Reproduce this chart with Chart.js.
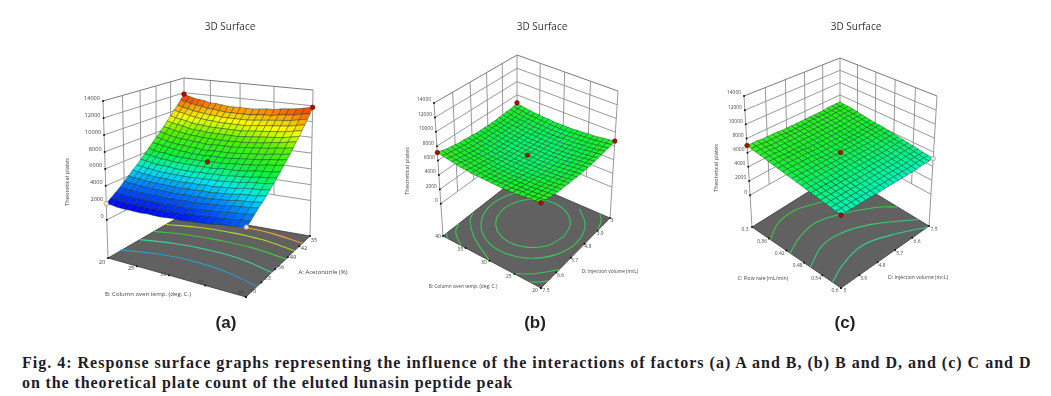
<!DOCTYPE html>
<html>
<head>
<meta charset="utf-8">
<script src="https://cdn.jsdelivr.net/npm/chart.js@4"></script>
<style>
html,body{margin:0;padding:0;background:#fff;width:1051px;height:396px;overflow:hidden}
canvas{position:absolute;top:0}
.cap{position:absolute;left:22px;white-space:nowrap;font:bold 16px "Liberation Serif",serif;color:#1c1c2c;line-height:20px}
</style>
</head>
<body>
<canvas id="pa" width="340" height="340" style="left:60px"></canvas>
<canvas id="pb" width="284" height="340" style="left:400px"></canvas>
<canvas id="pc" width="302" height="340" style="left:705px"></canvas>
<div class="cap" style="top:352.5px;letter-spacing:1px">Fig. 4: Response surface graphs representing the influence of the interactions of factors (a) A and B, (b) B and D, and (c) C and D</div>
<div class="cap" style="top:373px;letter-spacing:.9px">on the theoretical plate count of the eluted lunasin peptide peak</div>
<script>
// ---------- values ----------
const zTicks = [0,2000,4000,6000,8000,10000,12000,14000];
const acetonitrileTicks = [35,42,49,56,63,70];
const columnTempTicks = [20,25,30,35,40];
const columnTempTicksReversed = [40,35,30,25,20];
const injectionTicks = [3,3.9,4.8,5.7,6.6,7.5];
const injectionTicksReversed = [7.5,6.6,5.7,4.8,3.9,3];
const flowTicks = [0.3,0.36,0.42,0.48,0.54,0.6];

// response surfaces, theoretical plates in hundreds; rows run along the second factor
const surfaceA = [
[118,116,114,113,112,110,110,109,108,108,108,108,108,109,110,110,112,113,114,116,118],
[112,110,108,107,106,104,104,103,102,102,102,102,102,103,104,104,106,107,108,110,112],
[106,104,103,101,100,99,98,98,97,97,97,97,97,98,99,100,101,102,103,105,107],
[101,99,98,96,95,94,93,93,92,92,92,92,92,93,94,95,96,97,98,100,102],
[95,93,92,91,89,88,88,87,87,87,87,87,87,88,89,90,91,92,93,95,97],
[90,88,87,86,84,83,83,82,82,82,82,82,82,83,84,85,86,87,88,90,92],
[84,83,81,80,79,78,78,77,77,77,77,77,78,78,79,80,81,83,84,86,88],
[79,78,76,75,74,74,73,73,72,72,73,73,73,74,75,76,77,78,80,81,83],
[74,73,71,70,69,69,68,68,67,67,68,68,68,69,70,71,72,73,75,76,78],
[69,68,67,66,65,64,64,63,63,63,64,64,64,65,66,67,68,69,71,72,74],
[64,62,61,61,60,59,59,59,59,59,59,60,60,61,62,63,64,65,67,68,70],
[59,58,57,56,56,55,55,55,55,55,55,55,56,57,57,58,59,61,62,63,65],
[54,53,52,51,51,51,50,50,50,50,51,51,52,52,53,54,55,56,58,59,61],
[49,48,47,47,46,46,46,46,46,46,47,47,48,48,49,50,51,53,54,55,57],
[45,44,43,43,42,42,42,42,42,42,43,43,44,44,45,46,47,49,50,51,53],
[40,39,39,38,38,38,38,38,38,38,39,39,40,40,41,42,43,45,46,47,49],
[36,35,35,34,34,34,34,34,34,34,35,35,36,36,37,38,39,41,42,43,45],
[31,31,30,30,30,30,30,30,30,31,31,32,32,33,34,35,36,38,39,40,42],
[27,27,26,26,26,26,26,26,26,27,27,28,28,29,30,31,32,34,35,36,38],
[23,23,22,22,22,22,22,22,23,23,24,24,25,26,27,28,29,30,31,33,34],
[19,19,18,18,18,18,18,19,19,19,20,21,21,22,23,24,25,27,28,29,31]
];
const surfaceB = [
[67,66,65,64,63,63,62,62,61,61,61,61,61,62,62,63,63,64,65,66,67],
[66,65,64,63,62,62,61,61,60,60,60,60,60,61,61,62,62,63,64,65,66],
[65,64,63,62,61,61,60,60,59,59,59,59,59,60,60,61,61,62,63,64,65],
[65,63,62,61,61,60,59,59,59,58,58,58,59,59,59,60,61,61,62,63,65],
[64,63,62,61,60,59,59,58,58,58,58,58,58,58,59,59,60,61,62,63,64],
[64,62,61,60,60,59,58,58,58,57,57,57,58,58,58,59,60,60,61,62,64],
[63,62,61,60,59,58,58,57,57,57,57,57,57,57,58,58,59,60,61,62,63],
[63,62,61,60,59,58,58,57,57,57,57,57,57,57,58,58,59,60,61,62,63],
[63,62,61,60,59,58,58,57,57,57,57,57,57,57,58,58,59,60,61,62,63],
[63,62,61,60,59,58,58,57,57,57,57,57,57,57,58,58,59,60,61,62,63],
[63,62,61,60,59,58,58,57,57,57,57,57,57,57,58,58,59,60,61,62,63],
[63,62,61,60,59,58,58,57,57,57,57,57,57,57,58,58,59,60,61,62,63],
[64,62,61,60,60,59,58,58,58,57,57,57,58,58,58,59,60,60,61,62,64],
[64,63,62,61,60,59,59,58,58,58,58,58,58,58,59,59,60,61,62,63,64],
[65,63,62,61,61,60,59,59,59,58,58,58,59,59,59,60,61,61,62,63,65],
[65,64,63,62,61,61,60,60,59,59,59,59,59,60,60,61,61,62,63,64,65],
[66,65,64,63,62,62,61,61,60,60,60,60,60,61,61,62,62,63,64,65,66],
[67,66,65,64,63,63,62,62,61,61,61,61,61,62,62,63,63,64,65,66,67],
[68,67,66,65,64,64,63,63,62,62,62,62,62,63,63,64,64,65,66,67,68],
[70,68,67,66,66,65,64,64,64,63,63,63,64,64,64,65,66,66,67,68,70],
[71,70,69,68,67,66,66,65,65,65,65,65,65,65,66,66,67,68,69,70,71]
];
const surfaceC = [
[69,68,68,67,66,65,64,63,62,62,61,60,59,58,57,56,55,54,53,52,51],
[69,68,68,67,66,65,64,63,62,62,61,60,59,58,57,56,55,54,53,52,51],
[69,68,68,67,66,65,64,63,62,62,61,60,59,58,57,56,55,54,53,52,51],
[69,68,68,67,66,65,64,63,62,62,61,60,59,58,57,56,55,54,53,52,51],
[68,68,67,66,65,64,63,62,61,61,60,59,58,57,56,55,54,53,52,51,50],
[68,68,67,66,65,64,63,62,61,61,60,59,58,57,56,55,54,53,52,51,50],
[68,68,67,66,65,64,63,62,61,61,60,59,58,57,56,55,54,53,52,51,50],
[68,68,67,66,65,64,63,62,61,61,60,59,58,57,56,55,54,53,52,51,50],
[68,68,67,66,65,64,63,62,61,61,60,59,58,57,56,55,54,53,52,51,50],
[68,67,67,66,65,64,63,62,61,60,60,59,58,57,56,55,54,53,52,51,50],
[68,67,67,66,65,64,63,62,61,60,60,59,58,57,56,55,54,53,52,51,50],
[68,67,67,66,65,64,63,62,61,60,60,59,58,57,56,55,54,53,52,51,50],
[68,67,67,66,65,64,63,62,61,60,60,59,58,57,56,55,54,53,52,51,50],
[68,67,67,66,65,64,63,62,61,60,60,59,58,57,56,55,54,53,52,51,50],
[69,68,67,66,65,64,64,63,62,61,60,59,58,57,56,55,54,53,52,51,50],
[69,68,67,66,65,64,64,63,62,61,60,59,58,57,56,55,54,53,52,51,50],
[69,68,67,66,65,64,64,63,62,61,60,59,58,57,56,55,54,53,52,51,50],
[69,68,67,66,65,64,64,63,62,61,60,59,58,57,56,55,54,53,52,51,50],
[70,69,68,67,66,65,64,63,62,61,60,59,58,57,56,55,54,53,52,51,50],
[70,69,68,67,66,65,64,63,62,61,60,59,58,57,56,55,54,53,52,51,50],
[70,69,68,67,66,65,64,63,62,61,60,59,58,57,56,55,54,53,52,51,50]
];

// design points: share along first factor, share along second factor, plates in hundreds, actual above surface?
const designA = [[0,0,118,1],[1,0,118,1],[0.5,0.5,59,1],[0,1,19,0],[1,1,31,0]];
const designB = [[0,0,68,1],[1,0,67,1],[0.5,0.5,57,1],[0,1,71,1],[1,1,71,1]];
const designC = [[0,1,70,1],[0.5,0.5,60,1],[1,1,50,1],[1,0,51,0]];

// contour lines on the floor: [share of first factor, share of second factor]
const contoursA = [
 {color:'#f0a030',pts:[[0,.12],[.25,.07],[.5,.05],[.75,.07],[1,.145]]},
 {color:'#b4d62e',pts:[[0,.273],[.25,.21],[.5,.19],[.75,.21],[1,.285]]},
 {color:'#3cc83c',pts:[[0,.44],[.25,.38],[.5,.36],[.75,.37],[1,.43]]},
 {color:'#3cd0a0',pts:[[0,.626],[.25,.565],[.5,.545],[.75,.565],[1,.65]]},
 {color:'#2a9ad0',pts:[[0,.846],[.25,.775],[.5,.75],[.75,.775],[1,.855]]}
];
const contoursB = [
 {color:'#35c85a',pts:[[.815,.425],[.773,.583],[.658,.698],[.5,.74],[.342,.698],[.227,.583],[.185,.425],[.227,.267],[.342,.152],[.5,.11],[.658,.152],[.773,.267],[.815,.425]]},
 {color:'#35c85a',pts:[[.72,.044],[.881,.205],[.94,.425],[.881,.645],[.72,.806],[.5,.865],[.28,.806],[.119,.645],[.06,.425],[.119,.205],[.28,.044]]},
 {color:'#35c85a',pts:[[0,.625],[.06,.73],[.22,.86],[.5,1]]},
 {color:'#35c85a',pts:[[.74,1],[.87,.91],[1,.76]]},
 {color:'#35c85a',pts:[[.9,0],[.96,.08],[1,.21]]},
 {color:'#35c85a',pts:[[0,.805],[.05,.9],[.197,1]]},
 {color:'#35c85a',pts:[[.895,1],[.95,.96],[1,.91]]},
 {color:'#35c85a',pts:[[0,.955],[.03,.985],[.054,1]]}
];
const contoursC = [
 {color:'#3cc83c',pts:[[.216,1],[.112,.817],[.092,.626],[.147,.451],[.2,.33]]},
 {color:'#36cc54',pts:[[.443,1],[.359,.814],[.324,.608],[.396,.386],[.544,.12],[.66,0]]},
 {color:'#30cf78',pts:[[.67,1],[.56,.766],[.56,.555],[.657,.309],[.885,0]]},
 {color:'#2cd09a',pts:[[.91,1],[.828,.803],[.782,.547],[.851,.31],[1,.02]]}
];

// ---------- panel views (page pixels of the box corners) ----------
const floorLevel = -4500;
const viewA = {floor:[[184,214],[310,236],[246,297],[108,258]],top:[[184,78],[313,90],[247,127],[103,101]]};
const viewB = {floor:[[517,178],[610,218],[541,288],[443,236]],top:[[517,55],[618,91],[541,152],[434,103]]};
const viewC = {floor:[[840,172],[929,226],[841,288],[752,227]],top:[[840,58],[937,96],[841,146],[744,96]]};

function homography(q){
  const [p0,p1,p2,p3]=q;
  const dx1=p1[0]-p2[0],dx2=p3[0]-p2[0],sx=p0[0]-p1[0]+p2[0]-p3[0];
  const dy1=p1[1]-p2[1],dy2=p3[1]-p2[1],sy=p0[1]-p1[1]+p2[1]-p3[1];
  const det=dx1*dy2-dx2*dy1;
  const g=(sx*dy2-dx2*sy)/det,h=(dx1*sy-sx*dy1)/det;
  const a=p1[0]-p0[0]+g*p1[0],b=p3[0]-p0[0]+h*p3[0],c=p0[0];
  const d=p1[1]-p0[1]+g*p1[1],e=p3[1]-p0[1]+h*p3[1],f=p0[1];
  return (u,v)=>{const w=g*u+h*v+1;return [(a*u+b*v+c)/w,(d*u+e*v+f)/w];};
}
function projector(view){
  const F=homography(view.floor),T=homography(view.top);
  return (u,v,z)=>{
    const w=(z-floorLevel)/(14000-floorLevel),a=F(u,v),b=T(u,v);
    return {x:a[0]+(b[0]-a[0])*w,y:a[1]+(b[1]-a[1])*w};
  };
}
const ramp=[[1900,[0,0,240]],[3600,[0,130,255]],[4600,[0,230,240]],[5200,[0,245,160]],[6200,[20,240,50]],[8000,[90,240,0]],[9400,[255,255,0]],[10400,[255,170,0]],[11200,[255,80,0]]];
function rampColor(z){
  if(z<=ramp[0][0])return 'rgb(0,0,240)';
  for(let i=1;i<ramp.length;i++){
    if(z<=ramp[i][0]){
      const t=(z-ramp[i-1][0])/(ramp[i][0]-ramp[i-1][0]),a=ramp[i-1][1],b=ramp[i][1];
      return `rgb(${a.map((c,k)=>Math.round(c+(b[k]-c)*t)).join(',')})`;
    }
  }
  return 'rgb(255,80,0)';
}

// keeps one scale unit equal to one page pixel whatever room the title took
const pageScalePlugin={id:'pageScale',afterLayout(chart){
  const a=chart.chartArea,o=chart.options.plugins.pageScale,sx=chart.scales.x,sy=chart.scales.y;
  sx.min=o.left+a.left;sx.max=o.left+a.right;sx.configure();
  sy.min=a.top;sy.max=a.bottom;sy.configure();
}};
const polygonPlugin={id:'polygonFill',beforeDatasetDraw(chart,args){
  const ds=chart.data.datasets[args.index];
  if(!ds.polygonFill)return;
  const c=chart.ctx;c.save();c.beginPath();
  args.meta.data.forEach((p,i)=>i?c.lineTo(p.x,p.y):c.moveTo(p.x,p.y));
  c.closePath();c.fillStyle=ds.polygonFill;c.fill();c.restore();
}};
const textPlugin={id:'panelText',afterDraw(chart){
  const c=chart.ctx,sx=chart.scales.x,sy=chart.scales.y;
  (chart.options.plugins.panelText.items||[]).forEach(t=>{
    c.save();
    c.translate(sx.getPixelForValue(t.x),sy.getPixelForValue(t.y));
    if(t.rot)c.rotate(t.rot);
    c.font=t.font;c.fillStyle=t.color;c.textAlign=t.align||'center';c.textBaseline='middle';
    c.fillText(t.text,0,0);c.restore();
  });
}};

const textGrey='#444';

function buildPanel(p){
  const tickFont=p.tickSize+'px "Open Sans"',titleFont=p.titleSize+'px "Open Sans"',zTitleFont='5.8px "Open Sans"';
  const P=projector(p.view),ds=[];
  const add=d=>{ds.push(Object.assign({showLine:true,pointRadius:0,clip:false,fill:false,borderWidth:1,tension:0},d));};
  const wall={borderColor:'#8c8c8c',borderWidth:.9};
  const frac=(i,a)=>i/(a.length-1);
  const z0=zTicks[0],zTop=zTicks[zTicks.length-1];
  zTicks.forEach(z=>add(Object.assign({},wall,{data:[P(0,1,z),P(0,0,z),P(1,0,z)],borderColor:z===zTop?'#6a6a6a':'#8c8c8c'})));
  p.vTicks.forEach((t,i)=>{const f=frac(i,p.vTicks);if(f>0&&f<1)add(Object.assign({},wall,{data:[P(0,f,z0),P(0,f,zTop)]}));});
  p.uTicks.forEach((t,i)=>{const f=frac(i,p.uTicks);if(f>0&&f<1)add(Object.assign({},wall,{data:[P(f,0,z0),P(f,0,zTop)]}));});
  add(Object.assign({},wall,{data:[P(0,0,floorLevel),P(0,0,zTop)]}));
  add(Object.assign({},wall,{data:[P(0,1,floorLevel),P(0,1,zTop)]}));
  add(Object.assign({},wall,{data:[P(1,0,floorLevel),P(1,0,zTop)]}));
  add({data:[P(0,0,floorLevel),P(1,0,floorLevel),P(1,1,floorLevel),P(0,1,floorLevel),P(0,0,floorLevel)],polygonFill:'#616161',borderColor:'#3a3a3a',borderWidth:.8});
  p.contours.forEach(c=>add({data:c.pts.map(q=>P(q[0],q[1],floorLevel)),borderColor:c.color,borderWidth:1.1,tension:.4}));
  const s=p.surface,n=s.length-1,m=s[0].length-1;
  for(let k=0;k<n;k++)for(let j=0;j<m;j++){
    const a=s[k][j]*100,b=s[k][j+1]*100,c=s[k+1][j+1]*100,d=s[k+1][j]*100;
    add({data:[P(j/m,k/n,a),P((j+1)/m,k/n,b),P((j+1)/m,(k+1)/n,c),P(j/m,(k+1)/n,d),P(j/m,k/n,a)],
      polygonFill:rampColor((a+b+c+d)/4),borderColor:'rgba(10,50,30,.62)',borderWidth:.65});
  }
  const dots=[];
  zTicks.forEach(z=>dots.push(P(0,1,z)));
  p.uTicks.forEach((t,i)=>dots.push(P(frac(i,p.uTicks),1,floorLevel)));
  p.vTicks.forEach((t,i)=>dots.push(P(1,frac(i,p.vTicks),floorLevel)));
  add({data:dots,showLine:false,pointRadius:1,pointBackgroundColor:'#111',pointBorderWidth:0});
  p.design.forEach(d=>add({data:[P(d[0],d[1],d[2]*100)],showLine:false,pointRadius:2.3,
    pointBackgroundColor:d[3]?'#a81400':'#ece4d4',pointBorderColor:d[3]?'#5a0c00':'#9a9080',pointBorderWidth:.6}));
  ds.forEach((d,i)=>d.order=-i);

  const items=[];
  const lerp=(a,b,t)=>a+(b-a)*t;
  zTicks.forEach(z=>{const q=P(0,1,z);items.push({text:String(z),x:q.x-3,y:q.y-3,align:'right',font:tickFont,color:textGrey});});
  p.uTicks.forEach((t,i)=>{const f=frac(i,p.uTicks),q=P(f,1,floorLevel);
    items.push({text:String(t),x:q.x+lerp(p.uOff[0][0],p.uOff[1][0],f),y:q.y+lerp(p.uOff[0][1],p.uOff[1][1],f),font:tickFont,color:textGrey});});
  p.vTicks.forEach((t,i)=>{const f=frac(i,p.vTicks),q=P(1,f,floorLevel);
    items.push({text:String(t),x:q.x+lerp(p.vOff[0][0],p.vOff[1][0],f),y:q.y+lerp(p.vOff[0][1],p.vOff[1][1],f),font:tickFont,color:textGrey});});
  items.push({text:'Theoretical plates',x:p.zTitle[0],y:p.zTitle[1],rot:-Math.PI/2,font:zTitleFont,color:textGrey});
  items.push({text:p.uTitle.t,x:p.uTitle.x,y:p.uTitle.y,font:titleFont,color:textGrey});
  items.push({text:p.vTitle.t,x:p.vTitle.x,y:p.vTitle.y,font:titleFont,color:textGrey});
  items.push({text:p.tag.t,x:p.tag.x,y:p.tag.y,font:'bold 17px "Liberation Sans"',color:'#222'});

  new Chart(document.getElementById(p.id),{
    type:'scatter',
    data:{datasets:ds},
    plugins:[pageScalePlugin,polygonPlugin,textPlugin],
    options:{
      responsive:false,animation:false,events:[],devicePixelRatio:1,
      layout:{padding:0},
      scales:{
        x:{type:'linear',display:false,bounds:'data',min:p.left,max:p.left+p.width},
        y:{type:'linear',display:false,bounds:'data',min:33,max:340,reverse:true}
      },
      plugins:{
        legend:{display:false},tooltip:{enabled:false},
        title:{display:true,text:'3D Surface',color:'#333',font:{family:'"Open Sans"',size:10,weight:'normal'},padding:{top:21,bottom:0}},
        pageScale:{left:p.left},
        panelText:{items}
      }
    }
  });
}

buildPanel({id:'pa',left:60,width:340,view:viewA,surface:surfaceA,design:designA,contours:contoursA,tickSize:5.6,titleSize:6,
  uTicks:columnTempTicks,vTicks:acetonitrileTicks,uOff:[[-6,4],[-5,-5]],vOff:[[4,4],[7,-6]],
  zTitle:[67,182],uTitle:{t:'B: Column oven temp. (deg. C.)',x:148,y:294},vTitle:{t:'A: Acetonitrile (%)',x:323,y:272},tag:{t:'(a)',x:226,y:323}});
buildPanel({id:'pb',left:400,width:284,view:viewB,surface:surfaceB,design:designB,contours:contoursB,tickSize:4.9,titleSize:4.8,
  uTicks:columnTempTicksReversed,vTicks:injectionTicks,uOff:[[-5,1],[-6,3]],vOff:[[2,3],[5,3]],
  zTitle:[407,171],uTitle:{t:'B: Column oven temp. (deg. C.)',x:463,y:287},vTitle:{t:'D: Injection volume (mcL)',x:610,y:272},tag:{t:'(b)',x:535,y:323}});
buildPanel({id:'pc',left:705,width:302,view:viewC,surface:surfaceC,design:designC,contours:contoursC,tickSize:4.9,titleSize:5.1,
  uTicks:flowTicks,vTicks:injectionTicksReversed,uOff:[[-7,3],[-6,3]],vOff:[[5,4],[4,3]],
  zTitle:[716,168],uTitle:{t:'C: Flow rate (mL/min)',x:763,y:279},vTitle:{t:'D: Injection volume (mcL)',x:918,y:278},tag:{t:'(c)',x:845,y:323}});
</script>
</body>
</html>
